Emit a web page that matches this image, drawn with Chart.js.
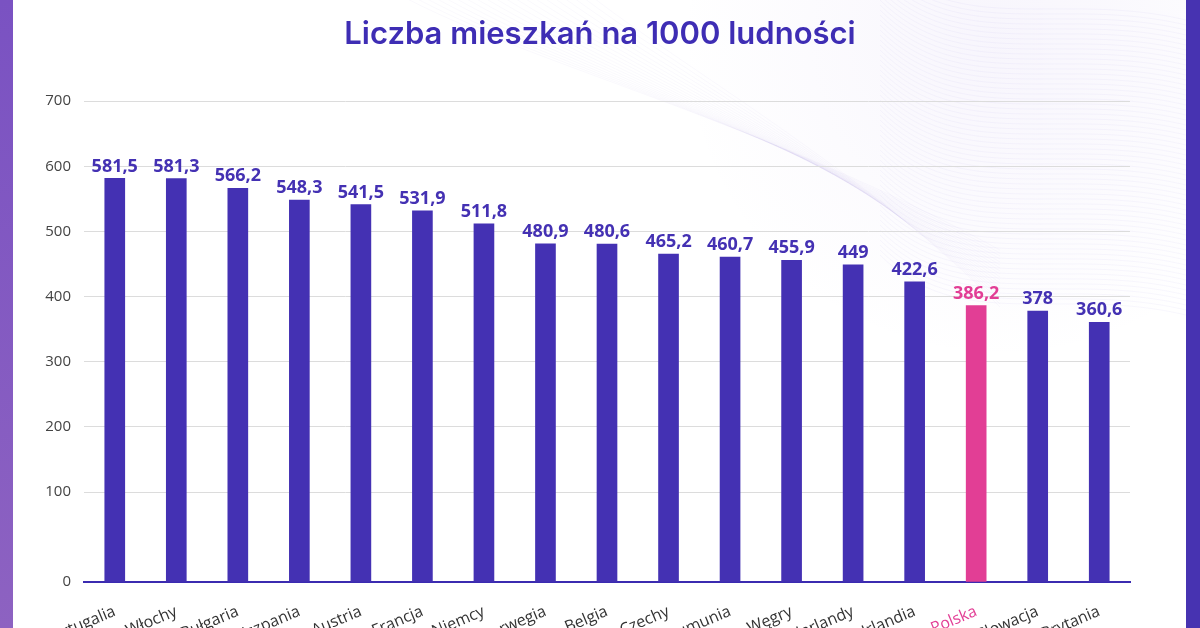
<!DOCTYPE html>
<html>
<head>
<meta charset="utf-8">
<script src="https://cdn.jsdelivr.net/npm/chart.js@4.4.1/dist/chart.umd.min.js"></script>
<style>
  html, body { margin: 0; padding: 0; background: #fff; overflow: hidden; }
  #wrap { width: 1200px; height: 628px; position: relative; }
</style>
</head>
<body>
<div id="wrap"><canvas id="wykres"></canvas></div>
<script>
// dane
var kraje = ['Portugalia', 'Włochy', 'Bułgaria', 'Hiszpania', 'Austria', 'Francja', 'Niemcy', 'Norwegia',
    'Belgia', 'Czechy', 'Rumunia', 'Węgry', 'Niderlandy', 'Irlandia', 'Polska', 'Słowacja', 'Wielka Brytania'];
var mieszkania = [581.5, 581.3, 566.2, 548.3, 541.5, 531.9, 511.8, 480.9, 480.6, 465.2, 460.7, 455.9, 449, 422.6, 386.2, 378, 360.6];
// oś Y: dolna etykieta "0" stoi niżej niż wynikałoby ze skali (tak jak w oryginale)
var yTickValues = [-38, 100, 200, 300, 400, 500, 600, 700];
var yTickLabels = ['0', '100', '200', '300', '400', '500', '600', '700'];

var fiolet = '#4431b3';
var roz = '#e23e95';

function kolor(i) {
    return kraje[i] === 'Polska' ? roz : fiolet;
}

var tloPlugin = {
    id: 'tlo',
    beforeDraw: function (chart) {
        var c = chart.ctx;
        c.save();
        c.fillStyle = '#ffffff';
        c.fillRect(0, 0, chart.width, chart.height);
        // delikatne fale w prawym górnym rogu
        var g = c.createRadialGradient(1000, 40, 10, 1000, 40, 320);
        g.addColorStop(0, 'rgba(150,120,220,0.07)');
        g.addColorStop(1, 'rgba(150,120,220,0)');
        c.fillStyle = g;
        c.fillRect(650, 0, 550, 380);
        c.lineWidth = 1;
        c.strokeStyle = 'rgba(120,90,210,0.05)';
        for (var i = 0; i < 60; i++) {
            var y0 = i * 5;
            c.beginPath();
            c.moveTo(880, y0 - 40);
            c.bezierCurveTo(960, y0 + 40, 1060, y0 - 10, 1186, y0 + 20);
            c.stroke();
        }
        c.strokeStyle = 'rgba(120,90,210,0.035)';
        for (var j = 0; j < 20; j++) {
            c.beginPath();
            c.moveTo(400 + j * 10, -5);
            c.bezierCurveTo(520 + j * 8, 60, 760 + j * 6, 120 + j * 3, 1000, 250 + j * 3);
            c.stroke();
        }
        c.restore();
    },
    afterDraw: function (chart) {
        var c = chart.ctx;
        c.save();
        var g = c.createLinearGradient(0, 0, 0, chart.height);
        g.addColorStop(0, '#7a52c2');
        g.addColorStop(1, '#8d62c1');
        c.fillStyle = g;
        c.fillRect(0, 0, 13, chart.height);
        c.fillStyle = '#4733b1';
        c.fillRect(1186, 0, 14, chart.height);
        c.restore();
    }
};

var etykietyPlugin = {
    id: 'etykiety',
    afterDatasetsDraw: function (chart) {
        var c = chart.ctx;
        var meta = chart.getDatasetMeta(0);
        c.save();
        c.font = 'bold 18px "Open Sans", sans-serif';
        c.textAlign = 'center';
        c.textBaseline = 'bottom';
        meta.data.forEach(function (bar, i) {
            c.fillStyle = kolor(i);
            c.fillText(String(mieszkania[i]).replace('.', ','), bar.x, bar.y - 3);
        });
        c.restore();
    }
};

var ctx = document.getElementById('wykres').getContext('2d');
var myChart = new Chart(ctx, {
    type: 'bar',
    data: {
        labels: kraje,
        datasets: [{
            label: 'Liczba mieszkań na 1000 ludności',
            data: mieszkania,
            base: yTickValues[0],
            backgroundColor: kraje.map(function (k, i) { return kolor(i); }),
            borderWidth: 0,
            barThickness: 20
        }]
    },
    options: {
        responsive: true,
        maintainAspectRatio: false,
        animation: false,
        layout: { padding: 0 },
        plugins: {
            legend: { display: false },
            tooltip: { enabled: false },
            title: {
                display: true,
                text: 'Liczba mieszkań na 1000 ludności',
                color: '#3e2db4',
                font: { family: 'Inter, "Open Sans", sans-serif', size: 31, weight: '600' },
                padding: { top: 16, bottom: 48 }
            }
        },
        scales: {
            x: {
                grid: { display: false, drawTicks: false },
                border: { display: true, color: '#3b2bb0', width: 2 },
                ticks: {
                    autoSkip: false,
                    maxRotation: 23,
                    minRotation: 23,
                    padding: 20,
                    color: function (c) { return kraje[c.index] === 'Polska' ? roz : '#333'; },
                    font: { family: '"Open Sans", sans-serif', size: 16 }
                },
                afterFit: function (s) { s.height = 46; }
            },
            y: {
                min: yTickValues[0],
                max: 700,
                grid: { color: '#dcdcdc', drawTicks: false },
                border: { display: false },
                afterBuildTicks: function (s) {
                    s.ticks = yTickValues.map(function (v) { return { value: v }; });
                },
                ticks: {
                    padding: 13,
                    color: '#444',
                    font: { family: '"Open Sans", sans-serif', size: 15 },
                    callback: function (v, i) { return yTickLabels[i]; }
                },
                afterFit: function (s) { s.width = 84; }
            },
            // pusta oś po prawej, tylko po to, żeby zostawić margines
            prawa: {
                position: 'right',
                grid: { display: false, drawTicks: false },
                border: { display: false },
                ticks: { display: false },
                afterFit: function (s) { s.width = 70; }
            }
        }
    },
    plugins: [tloPlugin, etykietyPlugin]
});
</script>
</body>
</html>
